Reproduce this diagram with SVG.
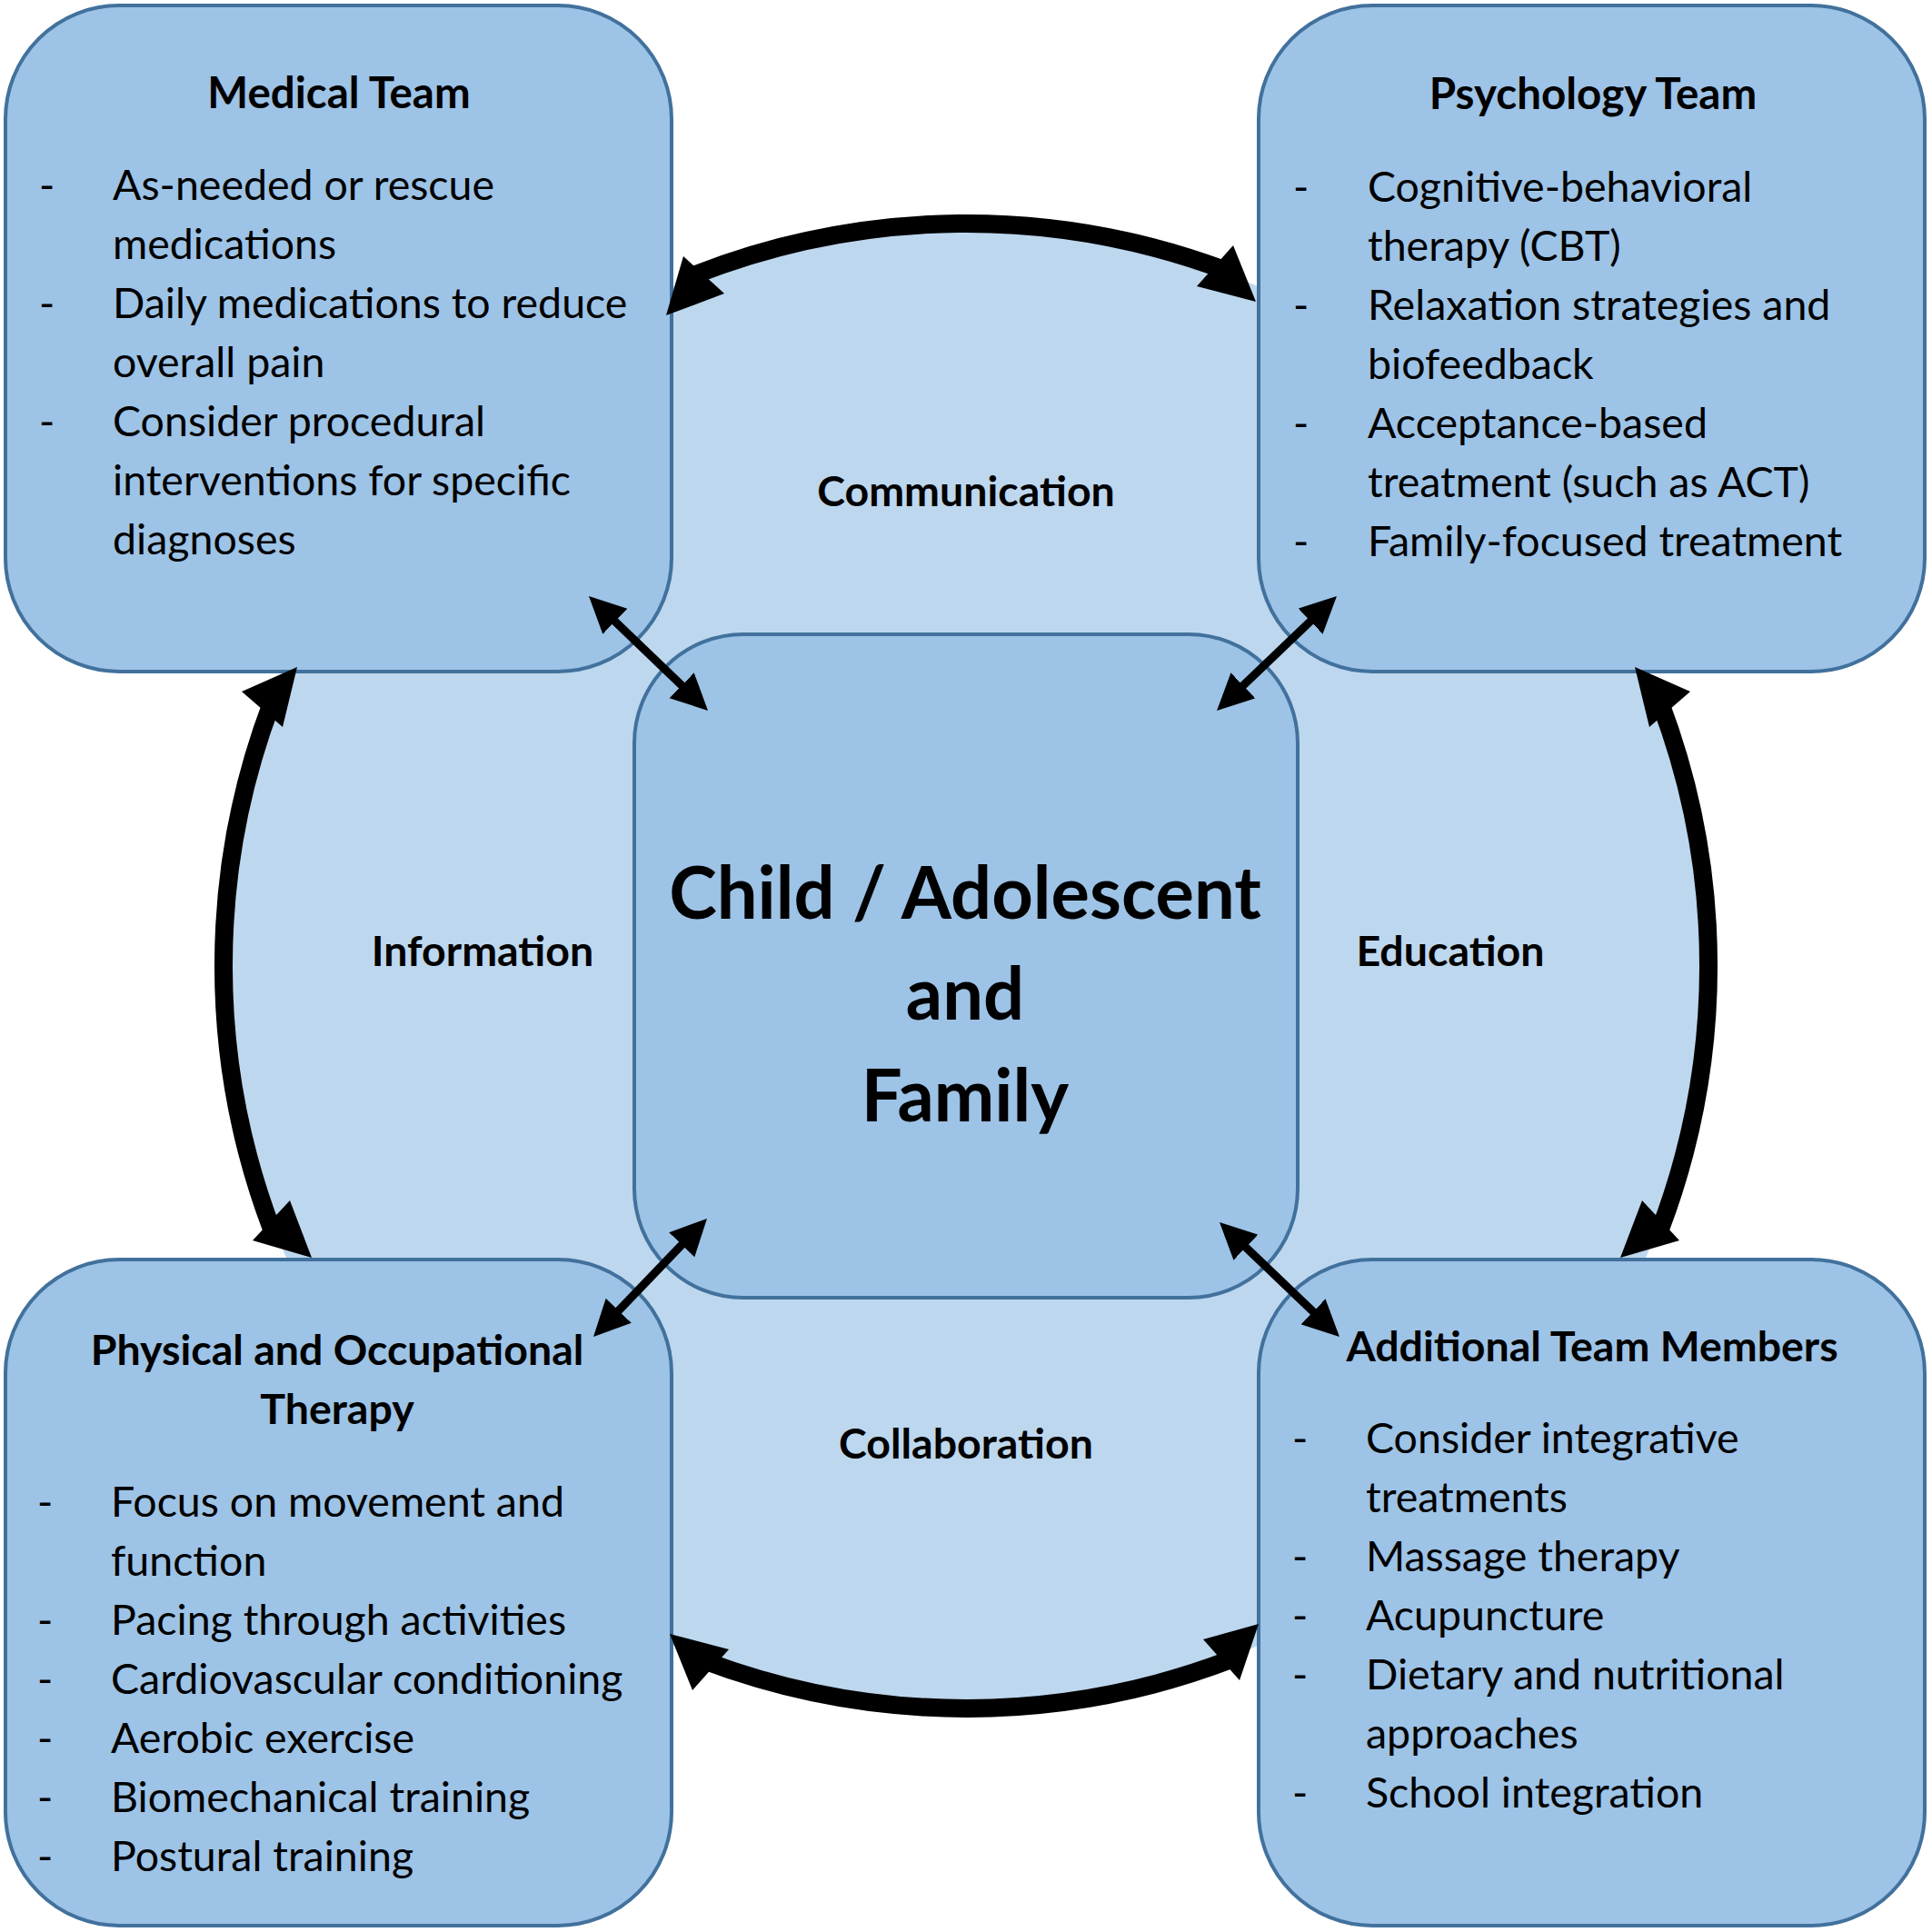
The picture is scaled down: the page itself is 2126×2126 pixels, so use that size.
<svg xmlns="http://www.w3.org/2000/svg" width="2126" height="2126" viewBox="0 0 2126 2126">
<style>
.box{fill:#9DC3E6;stroke:#41719C;stroke-width:4}
.t{font-family:Lato,"Liberation Sans",sans-serif;font-size:46.5px;fill:#000}
.b{font-family:Lato,"Liberation Sans",sans-serif;font-size:46.5px;font-weight:bold;fill:#000}
.h{font-size:47.5px}
.c{font-family:Lato,"Liberation Sans",sans-serif;font-size:79.5px;font-weight:bold;fill:#000;text-anchor:middle}
.m{text-anchor:middle}
.arc{fill:none;stroke:#000;stroke-width:20}
.dg{stroke:#000;stroke-width:9;marker-start:url(#ah);marker-end:url(#ah)}
.hd{fill:#000}
</style>
<defs>
<marker id="ah" markerUnits="userSpaceOnUse" markerWidth="40" markerHeight="40" viewBox="0 0 40 40" refX="20" refY="20" orient="auto-start-reverse">
<path d="M0,0.5 L40,20 L0,39.5 z" fill="#000"/>
</marker>
</defs>
<rect width="2126" height="2126" fill="#fff"/>
<circle id="ring" cx="1063" cy="1063" r="814" fill="#BDD7EE"/>
<g id="medical">
<rect class="box" x="6" y="6" width="733" height="733" rx="125"/>
<text class="b h m" x="373" y="119">Medical Team</text>
<text class="t" x="43" y="220">-</text><text class="t" x="124" y="220">As-needed or rescue</text>
<text class="t" x="124" y="285">medications</text>
<text class="t" x="43" y="350">-</text><text class="t" x="124" y="350">Daily medications to reduce</text>
<text class="t" x="124" y="415">overall pain</text>
<text class="t" x="43" y="480">-</text><text class="t" x="124" y="480">Consider procedural</text>
<text class="t" x="124" y="545">interventions for specific</text>
<text class="t" x="124" y="610">diagnoses</text>
</g>
<g id="psychology">
<rect class="box" x="1385" y="6" width="733" height="733" rx="125"/>
<text class="b h m" x="1753" y="120">Psychology Team</text>
<text class="t" x="1423" y="222">-</text><text class="t" x="1505" y="222">Cognitive-behavioral</text>
<text class="t" x="1505" y="287">therapy (CBT)</text>
<text class="t" x="1423" y="352">-</text><text class="t" x="1505" y="352">Relaxation strategies and</text>
<text class="t" x="1505" y="417">biofeedback</text>
<text class="t" x="1423" y="482">-</text><text class="t" x="1505" y="482">Acceptance-based</text>
<text class="t" x="1505" y="547">treatment (such as ACT)</text>
<text class="t" x="1423" y="612">-</text><text class="t" x="1505" y="612">Family-focused treatment</text>
</g>
<g id="physical">
<rect class="box" x="6" y="1386" width="733" height="733" rx="125"/>
<text class="b m" x="371" y="1502">Physical and Occupational</text>
<text class="b m" x="371" y="1567">Therapy</text>
<text class="t" x="41" y="1669">-</text><text class="t" x="122" y="1669">Focus on movement and</text>
<text class="t" x="122" y="1734">function</text>
<text class="t" x="41" y="1799">-</text><text class="t" x="122" y="1799">Pacing through activities</text>
<text class="t" x="41" y="1864">-</text><text class="t" x="122" y="1864">Cardiovascular conditioning</text>
<text class="t" x="41" y="1929">-</text><text class="t" x="122" y="1929">Aerobic exercise</text>
<text class="t" x="41" y="1994">-</text><text class="t" x="122" y="1994">Biomechanical training</text>
<text class="t" x="41" y="2059">-</text><text class="t" x="122" y="2059">Postural training</text>
</g>
<g id="additional">
<rect class="box" x="1385" y="1386" width="733" height="733" rx="125"/>
<text class="b m" x="1752" y="1498">Additional Team Members</text>
<text class="t" x="1422" y="1599">-</text><text class="t" x="1503" y="1599">Consider integrative</text>
<text class="t" x="1503" y="1664">treatments</text>
<text class="t" x="1422" y="1729">-</text><text class="t" x="1503" y="1729">Massage therapy</text>
<text class="t" x="1422" y="1794">-</text><text class="t" x="1503" y="1794">Acupuncture</text>
<text class="t" x="1422" y="1859">-</text><text class="t" x="1503" y="1859">Dietary and nutritional</text>
<text class="t" x="1503" y="1924">approaches</text>
<text class="t" x="1422" y="1989">-</text><text class="t" x="1503" y="1989">School integration</text>
</g>
<g id="center">
<rect class="box" x="698" y="698" width="730" height="730" rx="120"/>
<text class="c" x="1062" y="1011">Child / Adolescent</text>
<text class="c" x="1062" y="1122">and</text>
<text class="c" x="1062" y="1234">Family</text>
</g>
<g id="labels">
<text class="b m" x="1063" y="557">Communication</text>
<text class="b m" x="531" y="1063">Information</text>
<text class="b m" x="1596" y="1063">Education</text>
<text class="b m" x="1063" y="1605">Collaboration</text>
</g>
<g id="connectors">
<path class="arc" d="M763.6,302.8 A817,817 0 0 1 1346.4,296.7"/>
<polygon class="hd" points="733,347 752,282 797,323"/>
<polygon class="hd" points="1382,332 1357,270 1317,315"/>
<path class="arc" d="M299.3,1353.3 A817,817 0 0 1 298.9,773.7"/>
<polygon class="hd" points="327,734 266,761 311,800"/>
<polygon class="hd" points="343,1384 278,1365 319,1321"/>
<path class="arc" d="M1827.1,773.7 A817,817 0 0 1 1826.7,1353.3"/>
<polygon class="hd" points="1799,734 1860,761 1815,800"/>
<polygon class="hd" points="1783,1384 1848,1365 1807,1321"/>
<path class="arc" d="M1354.4,1826.2 A817,817 0 0 1 775.1,1827.5"/>
<polygon class="hd" points="737,1798 802,1815 762,1860"/>
<polygon class="hd" points="1385,1787 1324,1804 1364,1849"/>
<line class="dg" x1="662.4" y1="669.9" x2="764.6" y2="768.1"/>
<line class="dg" x1="1456.5" y1="669.8" x2="1353.5" y2="768.2"/>
<line class="dg" x1="764.1" y1="1355.4" x2="666.9" y2="1456.6"/>
<line class="dg" x1="1356.5" y1="1358.8" x2="1459.5" y2="1457.2"/>
</g>
</svg>
